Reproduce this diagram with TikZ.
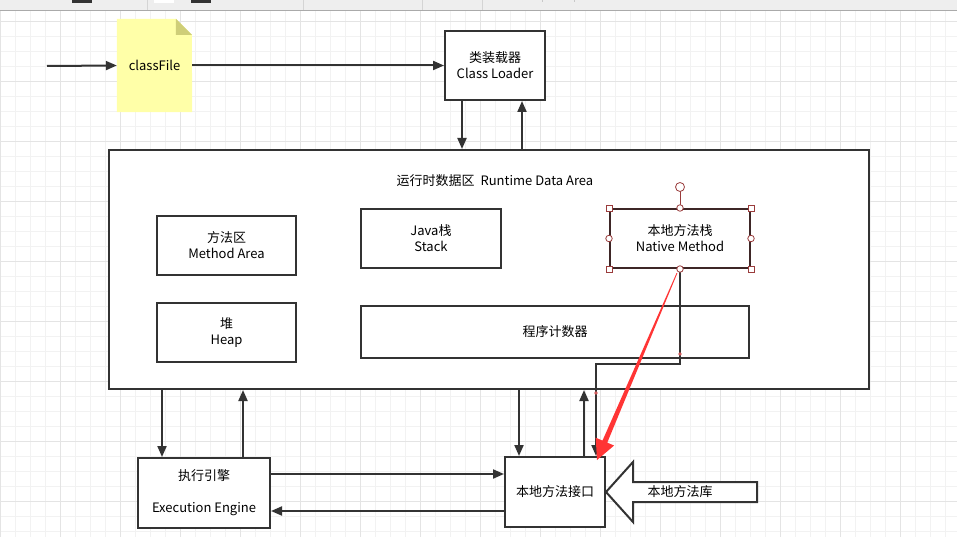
\documentclass[tikz,border=0pt]{standalone}
\usepackage{fontspec}
\setmainfont{Noto Sans CJK SC}
\usetikzlibrary{arrows.meta,calc}
\definecolor{ink}{HTML}{333333}
\definecolor{gridminor}{HTML}{F2F2F2}
\definecolor{gridmajor}{HTML}{E4E4E4}
\definecolor{notefill}{HTML}{FFFFA8}
\definecolor{notefold}{HTML}{CFCE78}
\definecolor{selred}{HTML}{9A3C3C}
\definecolor{selborder}{HTML}{3E2626}
\definecolor{redarrow}{HTML}{FF3535}
\definecolor{dotred}{HTML}{D05A5A}
\definecolor{barfill}{HTML}{EEEEEE}
\definecolor{barline}{HTML}{AAAAAA}
\definecolor{barsep}{HTML}{D4D4D4}
\definecolor{bartick}{HTML}{C8C8C8}
\tikzset{
  box/.style={draw=ink, line width=2pt, fill=white, inner sep=0pt, align=center,
    font=\fontsize{13pt}{16pt}\selectfont},
  lbl/.style={inner sep=0pt, align=center, font=\fontsize{13pt}{16pt}\selectfont},
  arr/.style={draw=ink, line width=2pt, -{Triangle[length=11pt,width=9pt]}},
  handlesq/.style={draw=selred, fill=white, line width=0.8pt, minimum size=6pt, inner sep=0pt},
  handlecirc/.style={circle, draw=selred, fill=white, line width=0.8pt, minimum size=6.5pt, inner sep=0pt},
}
\begin{document}
\begin{tikzpicture}[x=1pt,y=-1pt]
\useasboundingbox (0,0) rectangle (957,537);
\fill[white] (0,0) rectangle (957,537);
% grid
\foreach \x in {0,15,...,945} \draw[gridminor, line width=1pt] (\x+0.5,11) -- (\x+0.5,537);
\foreach \y in {21,36,...,536} \draw[gridminor, line width=1pt] (0,\y+0.5) -- (957,\y+0.5);
\foreach \x in {0,60,...,900} \draw[gridmajor, line width=1pt] (\x+0.5,11) -- (\x+0.5,537);
\foreach \y in {21,81,...,501} \draw[gridmajor, line width=1pt] (0,\y+0.5) -- (957,\y+0.5);
% toolbar
\fill[barfill] (0,0) rectangle (957,10);
\draw[barline, line width=1pt] (0,10.5) -- (957,10.5);
\foreach \x in {147,303,422,482} \draw[barsep, line width=1pt] (\x,0) -- (\x,10);
\foreach \x in {542,574} \draw[bartick, line width=1pt] (\x,0) -- (\x,2.5);
\fill[ink] (72,0) rectangle (92,3);
\fill[ink] (191,0) rectangle (211,3);
\fill[white] (154,0) rectangle (174,3);

% classFile note
\node[lbl, minimum width=75pt, minimum height=93pt] (cf) at (154.5,65.5) {};
\fill[notefill] (cf.north west) -- ++(59,0) -- ++(16,16) -- (cf.south east) -- (cf.south west) -- cycle;
\fill[notefold] ($(cf.north west)+(59,0)$) -- ++(0,16) -- ++(16,0) -- cycle;
\node[lbl] (cft) at (cf) {classFile};

% class loader
\node[box, minimum width=100pt, minimum height=69pt] (cl) at (495,65.5) {类装载器\\Class Loader};

% runtime data area
\node[box, minimum width=760pt, minimum height=239pt] (rda) at (489,269.5) {};
\node[lbl] (rdat) at (495,180.5) {运行时数据区\ \ Runtime Data Area};
\node[box, minimum width=139pt, minimum height=59pt] (ma) at (226.5,245.5) {方法区\\Method Area};
\node[box, minimum width=140pt, minimum height=59pt] (js) at (431,238.5) {Java栈\\Stack};
\node[box, draw=selborder, minimum width=140pt, minimum height=59pt] (nm) at (680,238.5) {本地方法栈\\Native Method};
\node[box, minimum width=139pt, minimum height=59pt] (hp) at (226.5,332.5) {堆\\Heap};
\node[box, minimum width=388pt, minimum height=52pt] (pc) at (555,332) {程序计数器};

% bottom boxes
\node[box, minimum width=132pt, minimum height=70pt] (ee) at (204,493) {执行引擎\\[16pt]Execution Engine};
\node[box, minimum width=100pt, minimum height=70pt] (ni) at (555,492) {本地方法接口};

% native library block arrow
\node[lbl] (lib) at (680,492) {本地方法库};
\draw[ink, line width=2pt, fill=white, line join=miter]
  (lib.center) ++(-74,0) coordinate (libtip)
  -- ++(27,-30) -- ++(0,20) -- ++(124,0) -- ++(0,20) -- ++(-124,0) -- ++(0,20) -- cycle;
\node[lbl] (libt) at (lib) {本地方法库};

% connectors
\coordinate (inStart) at (47,66);
\draw[arr] (inStart) -- (cf.west);
\draw[arr] (cf.east) -- (cl.west);
\path (cl.south) ++(-33,0) coordinate (cA) ++(60,0) coordinate (cB);
\draw[arr] (cA) -- (cA |- rda.north);
\draw[arr] (cB |- rda.north) -- (cB);

\path (ee.north) ++(-42,0) coordinate (eA) ++(81,0) coordinate (eB);
\draw[arr] (eA |- rda.south) -- (eA);
\draw[arr] (eB) -- (eB |- rda.south);
\path (ee.east) ++(0,-19) coordinate (eC) ++(0,37) coordinate (eD);
\draw[arr] (eC) -- (eC -| ni.west);
\draw[arr] (eD -| ni.west) -- (eD);

\path (ni.north) ++(-36,0) coordinate (nA) ++(65,0) coordinate (nB) ++(12,0) coordinate (nC);
\draw[arr] (nA |- rda.south) -- (nA);
\draw[arr] (nB) -- (nB |- rda.south);
\path (pc.south) ++(0,5) coordinate (pcb);
\draw[arr, line join=miter] (nm.south) |- (nC |- pcb) -- (nC);
\fill[dotred] ($(nm.south)+(0,85)$) circle (1.8pt);
\fill[dotred] ($(nC |- rda.south)+(0,3)$) circle (1.8pt);

% red arrow
\coordinate (rs) at ($(nm.south)+(-3,4)$);
\coordinate (rt) at ($(ni.north)+(42,4)$);
\coordinate (rb) at ($(rt)!20pt!(rs)$);
\fill[redarrow] ($(rs)!0.4pt!90:(rt)$) -- ($(rb)!2.6pt!-90:(rs)$) -- ($(rb)!10pt!-90:(rs)$) -- (rt)
  -- ($(rb)!10pt!90:(rs)$) -- ($(rb)!2.6pt!90:(rs)$) -- ($(rs)!0.4pt!-90:(rt)$) -- cycle;

% selection handles on native method stack
\draw[selred, line width=0.8pt] (nm.north) -- ++(0,-17) coordinate (rot);
\node[handlecirc, minimum size=9pt] (hrot) at ($(nm.north)+(0,-21)$) {};
\foreach \a in {north west,north east,south west,south east}
  \node[handlesq] at (nm.\a) {};
\foreach \a in {north,south,east,west}
  \node[handlecirc] at (nm.\a) {};
\end{tikzpicture}
\end{document}
